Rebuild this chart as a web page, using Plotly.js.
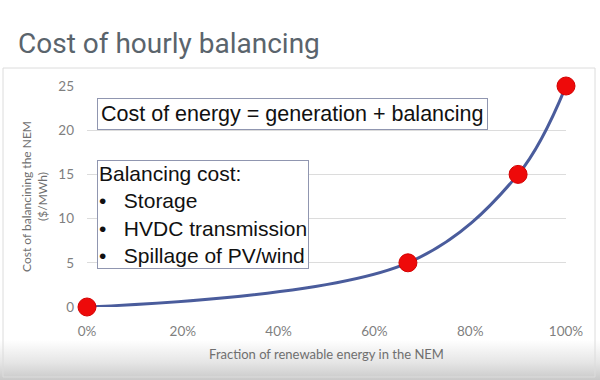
<!DOCTYPE html>
<html>
<head>
<meta charset="utf-8">
<script src="https://cdn.plot.ly/plotly-3.0.1.min.js"></script>
<style>
  html, body { margin: 0; padding: 0; }
  body { width: 600px; height: 380px; overflow: hidden;
         background: linear-gradient(to bottom, #ffffff 0px, #ffffff 340px, #e6e6e6 362px, #c9c9c9 380px); }
  #chart { width: 600px; height: 380px; }
</style>
</head>
<body>
<div id="chart"></div>
<script>
// Data
const renewableFraction = [0, 0.67, 0.90, 1.00];
const balancingCost = [0, 5, 15, 25];
const xTickValues = [0, 0.2, 0.4, 0.6, 0.8, 1.0];
const xTickLabels = ["0%", "20%", "40%", "60%", "80%", "100%"];
const yTickValues = [0, 5, 10, 15, 20, 25];

const titleText = "Cost of hourly balancing";
const xTitle = "Fraction of renewable energy in the NEM";
const yTitle = "Cost of balancining the NEM<br>($/MWh)";
const box1Text = "Cost of energy = generation + balancing";
const box2Lines = ["Balancing cost:", "•\u00a0\u00a0\u00a0Storage", "•\u00a0\u00a0\u00a0HVDC transmission", "•\u00a0\u00a0\u00a0Spillage of PV/wind"];

const axisFont = {family: "Lato, 'Open Sans', sans-serif", size: 13.5, color: "#7f7f7f"};

const trace = {
  x: renewableFraction,
  y: balancingCost,
  type: "scatter",
  mode: "lines+markers",
  line: {shape: "spline", smoothing: 1, color: "#4a5c9c", width: 3},
  marker: {size: 18, color: "#ee0a0a", line: {color: "#d40000", width: 1}},
  cliponaxis: false,
  hoverinfo: "x+y"
};

const layout = {
  width: 600, height: 380,
  paper_bgcolor: "rgba(0,0,0,0)",
  plot_bgcolor: "rgba(0,0,0,0)",
  margin: {l: 87, r: 34, t: 86, b: 73},
  showlegend: false,
  title: {
    text: titleText,
    x: 0.03, xanchor: "left", xref: "container",
    y: 0.86, yanchor: "bottom", yref: "container",
    font: {family: "Roboto, 'Liberation Sans', sans-serif", size: 28, color: "#5a646c"}
  },
  xaxis: {
    range: [0, 1],
    tickvals: xTickValues, ticktext: xTickLabels,
    showgrid: false, zeroline: false, showline: false,
    ticks: "", ticklen: 0, ticklabelstandoff: 14,
    tickfont: axisFont,
    title: {text: xTitle, font: {family: "Lato, 'Open Sans', sans-serif", size: 13, color: "#6f6f6f"}, standoff: 12}
  },
  yaxis: {
    range: [0, 25],
    tickvals: yTickValues,
    showgrid: true, gridcolor: "#dcdcdc", gridwidth: 1,
    zeroline: false, showline: false, ticks: "", ticklabelstandoff: 12,
    tickfont: axisFont,
    title: {text: yTitle, font: {family: "Lato, 'Open Sans', sans-serif", size: 12, color: "#6f6f6f"}, standoff: 8}
  },
  shapes: [
    {type: "rect", xref: "paper", yref: "paper",
     x0: -84/479, x1: 508/479, y0: -70/221, y1: 239/221,
     line: {color: "#dcdcdc", width: 1}, fillcolor: "rgba(0,0,0,0)", layer: "below"}
  ],
  annotations: [
    {xref: "paper", yref: "paper", x: 10/479, y: 209/221, xanchor: "left", yanchor: "top",
     text: box1Text, showarrow: false, align: "left",
     font: {family: "'Liberation Sans', Arial, sans-serif", size: 21.5, color: "#111111"},
     bordercolor: "#9096b0", borderwidth: 1, borderpad: 3, bgcolor: "#ffffff"},
    {xref: "paper", yref: "paper", x: 10/479, y: 147/221, xanchor: "left", yanchor: "top",
     text: box2Lines.join("<br>"), showarrow: false, align: "left",
     font: {family: "'Liberation Sans', Arial, sans-serif", size: 21, color: "#111111"},
     bordercolor: "#9096b0", borderwidth: 1, borderpad: 1, bgcolor: "#ffffff"}
  ]
};

Plotly.newPlot("chart", [trace], layout, {displayModeBar: false, staticPlot: true});
</script>
</body>
</html>
